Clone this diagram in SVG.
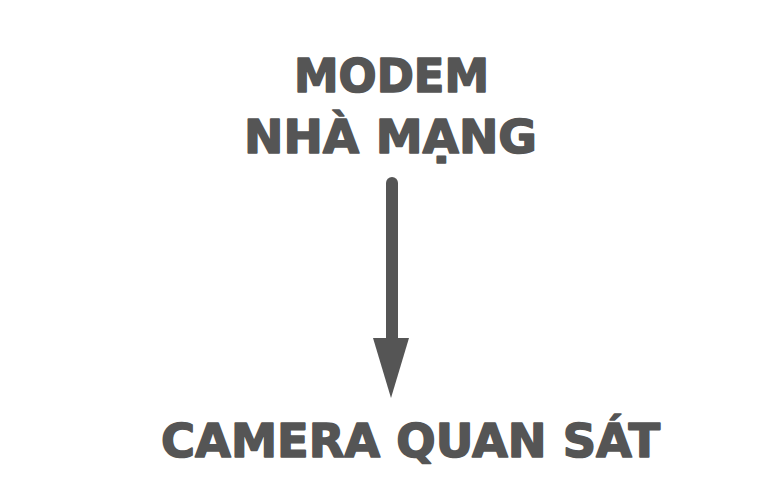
<svg xmlns="http://www.w3.org/2000/svg" width="776" height="502" viewBox="0 0 776 502">
<style>
.t{font-family:"DejaVu Sans","Liberation Sans",sans-serif;font-weight:bold;font-size:47px;fill:#555555;stroke:#555555;stroke-width:1.6px;stroke-linejoin:round}
</style>
<rect width="776" height="502" fill="#ffffff"/>
<g id="modem">
<text class="t" x="294" y="92" textLength="195" lengthAdjust="spacingAndGlyphs">MODEM</text>
<text class="t" x="244" y="153" textLength="293" lengthAdjust="spacingAndGlyphs">NHÀ MẠNG</text>
</g>
<g id="camera">
<text class="t" x="161" y="457" textLength="499" lengthAdjust="spacingAndGlyphs">CAMERA QUAN SÁT</text>
</g>
<g id="connectors">
<line x1="392" y1="183" x2="392" y2="342" stroke="#555555" stroke-width="12" stroke-linecap="round"/>
<polygon points="373,338 409,338 391,398" fill="#555555"/>
</g>
</svg>
